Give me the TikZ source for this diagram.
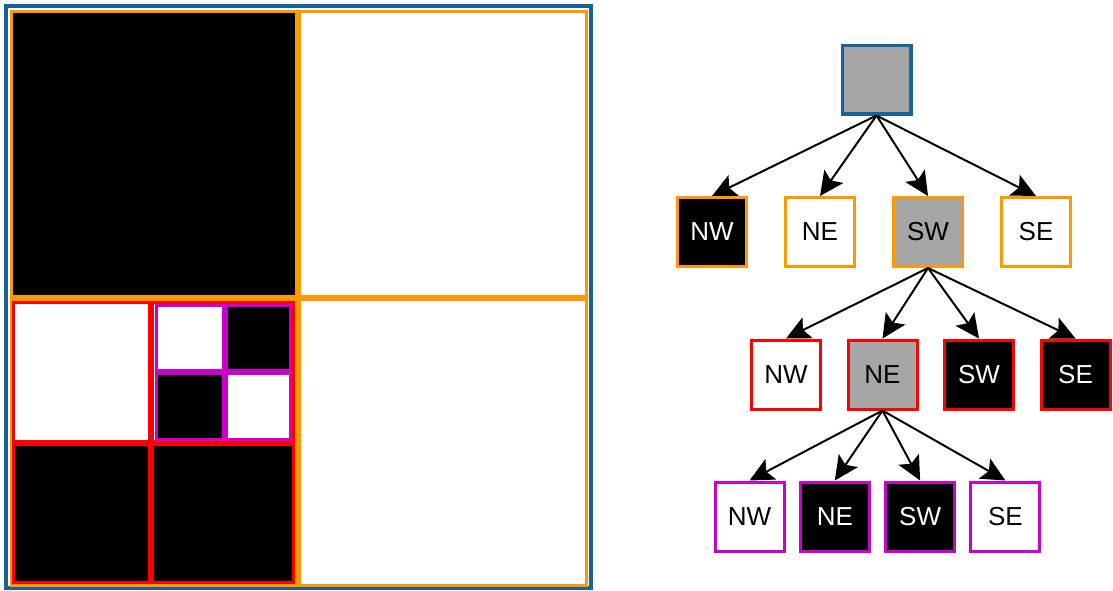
\documentclass[tikz,border=0pt]{standalone}
\usepackage{fontspec}
\setmainfont{Liberation Sans}
\usepackage{tikz}
\usetikzlibrary{arrows.meta, positioning}
\definecolor{rootblue}{HTML}{156499}
\definecolor{lvlorange}{HTML}{FF9900}
\definecolor{lvlred}{HTML}{FF0000}
\definecolor{lvlmagenta}{HTML}{CC00CC}
\definecolor{mixgray}{HTML}{A6A6A6}

\begin{document}
\begin{tikzpicture}[x=1pt,y=-1pt,
    cell/.style={line width=3pt},
    link/.style={-{Stealth[length=24pt,width=23pt,inset=5pt]},line width=2pt},
    qnode/.style={rectangle,draw,line width=3pt,minimum size=69pt,inner sep=0pt,
      font=\fontsize{26pt}{30pt}\selectfont},
    black node/.style={qnode,fill=black,text=white},
    white node/.style={qnode,fill=white},
    gray node/.style={qnode,fill=mixgray}]
  \useasboundingbox (0,0) rectangle (1113,590);

  % the image, split down to the third level
  \draw[line width=4pt, rootblue] (6,6) rectangle (591,588);
  \draw[cell, lvlorange, fill=black] (11.5,11.5) rectangle (296.5,296.5);
  \draw[cell, lvlorange, fill=white] (299.5,11.5) rectangle (586.5,296.5);
  \draw[cell, lvlorange, fill=white] (11.5,299.5) rectangle (296.5,585.5);
  \draw[cell, lvlorange, fill=white] (299.5,299.5) rectangle (586.5,585.5);
  % SW quadrant
  \draw[cell, lvlred, fill=white] (13.5,302.5) rectangle (149.5,441.5);
  \draw[cell, lvlred, fill=white] (152.5,302.5) rectangle (293.5,441.5);
  \draw[cell, lvlred, fill=black] (13.5,444.5) rectangle (149.5,582.5);
  \draw[cell, lvlred, fill=black] (152.5,444.5) rectangle (293.5,582.5);
  % NE of SW
  \draw[cell, lvlmagenta, fill=white] (156.5,305.5) rectangle (223,370.5);
  \draw[cell, lvlmagenta, fill=black] (226.5,305.5) rectangle (290,370.5);
  \draw[cell, lvlmagenta, fill=black] (156.5,373.5) rectangle (223,439.5);
  \draw[cell, lvlmagenta, fill=white] (226.5,373.5) rectangle (290,439.5);

  % the tree
  \node[gray node, draw=rootblue, line width=3.5pt, minimum size=68.5pt] (r) at (876.5,79.5) {};

  \node[black node, draw=lvlorange] (a1) at (712,232) {NW};
  \node[white node, draw=lvlorange] (a2) [right=36pt of a1] {NE};
  \node[gray node, draw=lvlorange] (a3) [right=36pt of a2] {SW};
  \node[white node, draw=lvlorange] (a4) [right=36pt of a3] {SE};

  \node[white node, draw=lvlred] (b1) at (786,374.5) {NW};
  \node[gray node, draw=lvlred] (b2) [right=24.5pt of b1] {NE};
  \node[black node, draw=lvlred] (b3) [right=24.5pt of b2] {SW};
  \node[black node, draw=lvlred] (b4) [right=24.5pt of b3] {SE};

  \node[white node, draw=lvlmagenta] (c1) at (749.5,516.5) {NW};
  \node[black node, draw=lvlmagenta] (c2) [right=13.3pt of c1] {NE};
  \node[black node, draw=lvlmagenta] (c3) [right=13.3pt of c2] {SW};
  \node[white node, draw=lvlmagenta] (c4) [right=13.3pt of c3] {SE};

  \foreach \i in {a1,a2,a3,a4}
    \draw[link] (r.south) -- (\i.north);
  \foreach \i in {b1,b2,b3,b4}
    \draw[link] (a3.south) -- (\i.north);
  \foreach \i in {c1,c2,c3,c4}
    \draw[link] (b2.south) -- (\i.north);
\end{tikzpicture}
\end{document}
